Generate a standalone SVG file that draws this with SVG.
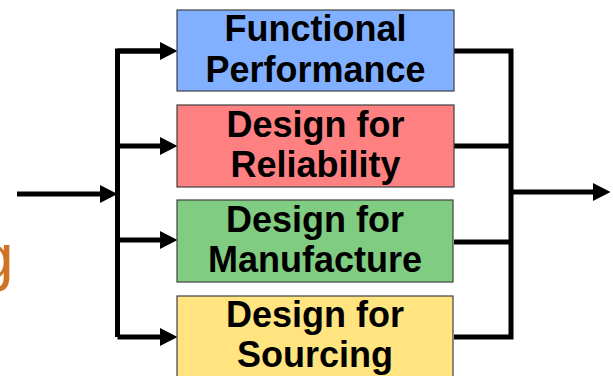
<svg xmlns="http://www.w3.org/2000/svg" width="613" height="376" viewBox="0 0 613 376">
<style>
.box{stroke:#404040;stroke-width:1.2}
.lbl{font-family:"Liberation Sans",Arial,sans-serif;font-weight:bold;font-size:36px;fill:#000;text-anchor:middle}
.wire{fill:none;stroke:#000;stroke-width:5;stroke-linejoin:miter}
.arr{marker-end:url(#ah)}
</style>
<defs>
<marker id="ah" markerUnits="userSpaceOnUse" markerWidth="18" markerHeight="18" refX="0" refY="9" orient="auto" overflow="visible">
<path d="M0,0 L17.5,9 L0,18 Z" fill="#000"/>
</marker>
</defs>
<rect width="613" height="376" fill="#fff"/>
<text x="-22" y="279" font-family="'Liberation Sans',Arial,sans-serif" font-size="64" fill="#CF7426">g</text>
<g id="connectors">
<path class="wire arr" d="M17,194 H100"/>
<path class="wire" d="M160,51 H117.5 V337"/>
<path class="wire arr" d="M117.5,51 H160"/>
<path class="wire arr" d="M117.5,146 H160"/>
<path class="wire arr" d="M117.5,240 H160"/>
<path class="wire arr" d="M117.5,337 H160"/>
<path class="wire" d="M454,51 H511 V337 H454"/>
<path class="wire" d="M454,146 H511"/>
<path class="wire" d="M454,242 H511"/>
<path class="wire arr" d="M511,192 H593"/>
</g>
<g id="functional">
<rect class="box" x="177" y="10" width="277" height="81" fill="#80B0FF"/>
<text class="lbl" x="315.5" y="41">Functional</text>
<text class="lbl" x="315.5" y="82">Performance</text>
</g>
<g id="reliability">
<rect class="box" x="177" y="105" width="277" height="82" fill="#FF8080"/>
<text class="lbl" x="315.5" y="137">Design for</text>
<text class="lbl" x="315.5" y="177">Reliability</text>
</g>
<g id="manufacture">
<rect class="box" x="177" y="200" width="276" height="82" fill="#80CC80"/>
<text class="lbl" x="315" y="232">Design for</text>
<text class="lbl" x="315" y="272">Manufacture</text>
</g>
<g id="sourcing">
<rect class="box" x="177" y="296" width="276" height="90" fill="#FFE480"/>
<text class="lbl" x="315" y="327">Design for</text>
<text class="lbl" x="315" y="367">Sourcing</text>
</g>
</svg>
